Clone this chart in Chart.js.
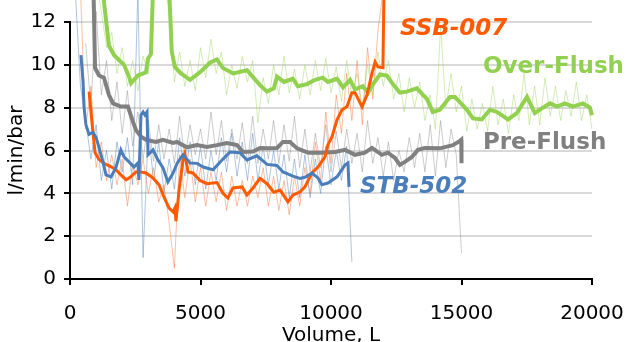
<!DOCTYPE html>
<html>
<head>
<meta charset="utf-8">
<script src="https://cdn.jsdelivr.net/npm/chart.js@4.4.1/dist/chart.umd.min.js"></script>
<style>
    html, body { margin: 0; padding: 0; background: #fff; overflow: hidden; }
    canvas { display: block; }
</style>
</head>
<body>
<canvas id="permChart" width="627" height="342"></canvas>
<script>
// Raw readings are logged every 200 L, starting at the given volume
const rawStep = 200;

// Over-Flush
const overFlushRawStart = 1000;
const overFlushRaw = [
    14, 12.5, 10.8, 11.5, 9.6, 10.8, 9.0, 10.2, 8.8, 10.4,
    9.6, 13.5, 14, 14, 12.5, 9.2, 10.6, 9.0, 10.2, 8.8,
    10.8, 9.4, 11.2, 9.6, 10.6, 8.6, 10.0, 8.9, 10.4, 9.2,
    10.2, 7.3, 9.4, 8.2, 10.0, 8.6, 10.4, 8.7, 9.8, 8.4,
    10.0, 8.6, 10.2, 8.8, 10.3, 8.7, 9.9, 8.3, 10.2, 8.5,
    9.6, 8.0, 10.0, 8.6, 10.6, 9.0, 10.2, 8.4, 9.6, 7.8,
    9.4, 8.0, 9.2, 7.4, 8.6, 7.0, 11.8, 8.0, 9.6, 7.8,
    9.0, 6.9, 8.4, 7.0, 8.2, 6.9, 9.0, 7.2, 8.4, 6.8,
    8.6, 7.4, 9.6, 7.2, 9.0, 7.2, 9.4, 7.6, 9.0, 7.4,
    8.8, 7.6, 9.2, 7.4, 8.6, 7.0
];
const overFlushAvg = [
    [1250, 13.5], [1490, 10.9], [1690, 10.45], [2070, 10.0], [2260, 9.45], [2340, 9.15],
    [2600, 9.5], [2910, 9.65], [2990, 10.3], [3100, 10.5], [3180, 13.5], [3800, 13.5],
    [3900, 10.6], [4020, 9.9], [4250, 9.6], [4600, 9.3], [4980, 9.65], [5360, 10.1],
    [5630, 10.25], [5860, 9.85], [6250, 9.6], [6780, 9.75], [7280, 9.05], [7550, 8.75],
    [7810, 8.9], [7930, 9.45], [8200, 9.2], [8540, 9.35], [8730, 9.0], [9080, 9.1],
    [9390, 9.3], [9690, 9.4], [9880, 9.2], [10230, 9.35], [10460, 8.95], [10730, 9.3],
    [10920, 8.85], [11220, 9.0], [11420, 8.7], [11610, 9.1], [11880, 9.55], [12140, 9.5],
    [12370, 9.1], [12640, 8.7], [12910, 8.75], [13290, 8.9], [13680, 8.4], [13900, 7.8],
    [14170, 7.9], [14560, 8.5], [14750, 8.5], [15210, 7.9], [15440, 7.5], [15780, 7.45],
    [16090, 7.9], [16360, 7.8], [16780, 7.45], [17120, 7.75], [17510, 8.5], [17810, 7.75],
    [18120, 8.0], [18390, 8.2], [18660, 8.05], [18960, 8.2], [19270, 8.05], [19650, 8.2],
    [19920, 8.0], [20000, 7.65]
];

// Pre-Flush
const preFlushRawStart = 600;
const preFlushRaw = [
    11.0, 8.0, 12.5, 8.6, 10.2, 7.4, 9.2, 6.8, 8.8, 6.2,
    7.8, 5.6, 7.4, 5.5, 7.2, 5.6, 7.0, 5.4, 7.6, 5.6,
    7.2, 5.8, 7.0, 5.6, 7.8, 5.8, 7.4, 5.5, 7.0, 5.6,
    7.3, 5.4, 7.6, 5.4, 7.0, 5.6, 7.4, 5.4, 7.2, 5.5,
    7.6, 5.2, 7.0, 5.0, 6.8, 5.2, 7.2, 5.0, 6.9, 5.2,
    7.0, 5.4, 6.8, 5.0, 7.4, 5.4, 6.6, 4.8, 6.4, 4.6,
    6.0, 5.0, 6.6, 5.2, 6.8, 5.0, 7.2, 4.8, 7.4, 5.2,
    7.0, 5.8, 1.2
];
const preFlushAvg = [
    [900, 13.5], [960, 9.85], [1110, 9.5], [1300, 9.4], [1490, 8.6], [1650, 8.2],
    [1950, 8.05], [2220, 8.05], [2410, 7.35], [2530, 6.95], [2720, 6.65], [2910, 6.5],
    [3290, 6.4], [3560, 6.5], [3950, 6.35], [4100, 6.4], [4480, 6.15], [4870, 6.25],
    [5250, 6.17], [5630, 6.25], [6010, 6.35], [6400, 6.25], [6630, 5.93], [7010, 5.95],
    [7280, 6.12], [7550, 6.1], [7930, 6.12], [8160, 6.4], [8430, 6.4], [8700, 6.1],
    [9120, 5.9], [9650, 5.9], [10150, 5.93], [10540, 6.03], [10920, 5.8], [11300, 5.9],
    [11570, 6.12], [11950, 5.8], [12180, 5.9], [12450, 5.65], [12640, 5.33], [12830, 5.47],
    [13100, 5.7], [13330, 6.03], [13600, 6.12], [14170, 6.1], [14670, 6.25], [14940, 6.45],
    [14990, 6.5], [15000, 5.4]
];

// SSB-007
const ssbRawStart = 400;
const ssbRaw = [
    13.5, 7.0, 9.0, 5.2, 6.4, 4.6, 5.8, 4.4, 5.6, 3.4,
    5.4, 4.4, 5.6, 4.0, 5.2, 3.6, 4.4, 2.6, 0.5, 5.8,
    3.8, 5.6, 3.6, 5.2, 3.4, 5.0, 3.6, 5.0, 3.2, 4.8,
    3.4, 4.6, 3.4, 4.8, 3.8, 5.2, 3.4, 4.8, 3.2, 4.6,
    3.0, 4.8, 3.4, 5.2, 4.0, 6.4, 4.6, 7.8, 5.4, 8.6,
    6.8, 9.6, 7.4, 10.2, 7.2, 10.8, 8.4, 11.6, 13.5
];
const ssbAvg = [
    [730, 8.75], [820, 7.6], [900, 6.6], [960, 5.9], [1100, 5.6], [1300, 5.4],
    [1560, 5.25], [1760, 5.1], [1950, 4.86], [2150, 4.63], [2330, 4.77], [2530, 5.0],
    [2720, 5.0], [2910, 4.95], [3180, 4.72], [3410, 4.4], [3600, 3.83], [3790, 3.32],
    [3950, 3.13], [4020, 3.32], [4060, 2.7], [4180, 4.16], [4330, 5.56], [4400, 5.85],
    [4520, 5.0], [4710, 4.95], [4980, 4.6], [5250, 4.45], [5630, 4.5], [5860, 4.0],
    [6050, 3.78], [6240, 4.25], [6590, 4.3], [6780, 3.92], [7010, 4.25], [7280, 4.7],
    [7550, 4.45], [7810, 4.05], [8050, 4.15], [8350, 3.6], [8540, 3.92], [8810, 4.06],
    [9000, 4.3], [9270, 4.95], [9500, 5.23], [9770, 5.7], [9880, 6.26], [10040, 6.64],
    [10230, 7.43], [10420, 7.9], [10610, 8.04], [10800, 8.7], [10920, 8.7], [11190, 8.04],
    [11380, 8.6], [11570, 9.6], [11690, 10.14], [11800, 9.9], [11990, 9.86], [12030, 13.5]
];

// STB-502
const stbRawStart = 200;
const stbRaw = [
    13.5, 9.0, 7.4, 5.6, 7.2, 4.6, 6.0, 4.2, 6.4, 5.0,
    6.6, 4.4, 13.5, 1.0, 7.0, 4.6, 6.4, 4.0, 5.6, 4.2,
    6.6, 4.8, 6.4, 4.4, 6.2, 4.2, 6.0, 4.6, 6.6, 5.0,
    6.8, 4.8, 6.4, 4.6, 6.8, 4.6, 6.2, 4.4, 6.0, 4.2,
    5.8, 3.8, 5.6, 3.8, 5.8, 3.8, 5.6, 4.0, 6.2, 4.4,
    6.0, 4.6, 6.2, 0.8
];
const stbAvg = [
    [420, 10.45], [500, 9.2], [540, 8.0], [610, 7.2], [730, 6.75], [880, 6.85],
    [1000, 6.6], [1110, 6.15], [1260, 5.47], [1380, 4.86], [1570, 4.77], [1760, 5.2],
    [1950, 6.03], [2070, 5.7], [2260, 5.47], [2450, 5.23], [2600, 5.42], [2640, 4.63],
    [2720, 7.66], [2800, 7.8], [2870, 7.66], [2950, 7.8], [2990, 5.8], [3180, 6.03],
    [3370, 5.56], [3560, 5.2], [3750, 4.53], [3950, 4.95], [4100, 5.4], [4330, 5.8],
    [4600, 5.42], [4870, 5.4], [5100, 5.23], [5480, 5.1], [5860, 5.6], [6130, 5.93],
    [6510, 5.9], [6780, 5.56], [7160, 5.75], [7550, 5.35], [7930, 5.3], [8160, 5.0],
    [8540, 4.8], [8810, 4.7], [9000, 4.75], [9270, 4.95], [9500, 4.72], [9650, 4.4],
    [9880, 4.48], [10230, 4.77], [10540, 5.33], [10650, 5.42], [10690, 4.3]
];

const xTicks = [0, 5000, 10000, 15000, 20000];

const toRawPoints = (start, values) => values.map((v, i) => ({ x: start + i * rawStep, y: v }));
const toPoints = (pairs) => pairs.map(p => ({ x: p[0], y: p[1] }));

const FONT = "'DejaVu Sans', Verdana, sans-serif";

const lineSet = (data, color, width, order) => ({
    data: data,
    borderColor: color,
    borderWidth: width,
    pointRadius: 0,
    tension: 0,
    fill: false,
    clip: false,
    order: order
});

// series names written straight onto the plot
const seriesLabels = {
    id: 'seriesLabels',
    afterDatasetsDraw(chart) {
        const ctx = chart.ctx;
        const xs = chart.scales.x;
        const ys = chart.scales.y;
        const items = [
            { text: 'SSB-007', x: 12640, y: 11.68, color: '#FF5A00', italic: true },
            { text: 'Over-Flush', x: 15820, y: 9.9, color: '#92D050', italic: false },
            { text: 'Pre-Flush', x: 15820, y: 6.36, color: '#808080', italic: false },
            { text: 'STB-502', x: 11110, y: 4.3, color: '#4A7EBB', italic: true }
        ];
        ctx.save();
        ctx.textAlign = 'left';
        ctx.textBaseline = 'middle';
        items.forEach(it => {
            ctx.font = (it.italic ? 'italic ' : '') + 'bold 23px ' + FONT;
            ctx.fillStyle = it.color;
            ctx.fillText(it.text, xs.getPixelForValue(it.x), ys.getPixelForValue(it.y));
        });
        ctx.restore();
    }
};

new Chart(document.getElementById('permChart').getContext('2d'), {
    type: 'line',
    data: {
        datasets: [
            lineSet(toRawPoints(overFlushRawStart, overFlushRaw), 'rgba(146,208,80,0.4)', 1, 10),
            lineSet(toRawPoints(preFlushRawStart, preFlushRaw), 'rgba(128,128,128,0.4)', 1, 10),
            lineSet(toRawPoints(ssbRawStart, ssbRaw), 'rgba(255,110,50,0.45)', 1, 10),
            lineSet(toRawPoints(stbRawStart, stbRaw), 'rgba(74,126,187,0.45)', 1, 10),
            lineSet(toPoints(overFlushAvg), '#92D050', 4, 4),
            lineSet(toPoints(preFlushAvg), '#808080', 4, 3),
            lineSet(toPoints(ssbAvg), '#FF5A00', 3, 2),
            lineSet(toPoints(stbAvg), '#4A7EBB', 3, 1)
        ]
    },
    options: {
        responsive: false,
        animation: false,
        events: [],
        layout: { padding: { top: 22, right: 35, left: 0, bottom: 0 } },
        plugins: {
            legend: { display: false },
            tooltip: { enabled: false }
        },
        scales: {
            x: {
                type: 'linear',
                min: 0,
                max: 20000,
                afterFit: (s) => { s.height = 63; s.paddingLeft = 0; s.paddingRight = 0; },
                afterBuildTicks: (s) => { s.ticks = xTicks.map(v => ({ value: v })); },
                border: { color: '#000', width: 2 },
                grid: { drawOnChartArea: false, tickColor: '#000', tickLength: 6, lineWidth: 2 },
                ticks: {
                    color: '#000',
                    padding: 17,
                    maxRotation: 0,
                    callback: (v) => String(v),
                    font: { family: FONT, size: 20 }
                },
                title: {
                    display: true,
                    text: 'Volume, L',
                    color: '#000',
                    padding: { top: 0, bottom: -6 },
                    font: { family: FONT, size: 20 }
                }
            },
            y: {
                min: 0,
                max: 12,
                afterFit: (s) => { s.width = 70; s.paddingTop = 0; s.paddingBottom = 0; },
                border: { color: '#000', width: 2 },
                grid: { color: '#d9d9d9', lineWidth: 2, tickColor: '#000', tickLength: 6 },
                ticks: { stepSize: 2, color: '#000', padding: 8, font: { family: FONT, size: 20 } },
                title: {
                    display: true,
                    text: 'l/min/bar',
                    color: '#000',
                    padding: { top: 5, bottom: 2 },
                    font: { family: FONT, size: 20 }
                }
            }
        }
    },
    plugins: [seriesLabels]
});
</script>
</body>
</html>
